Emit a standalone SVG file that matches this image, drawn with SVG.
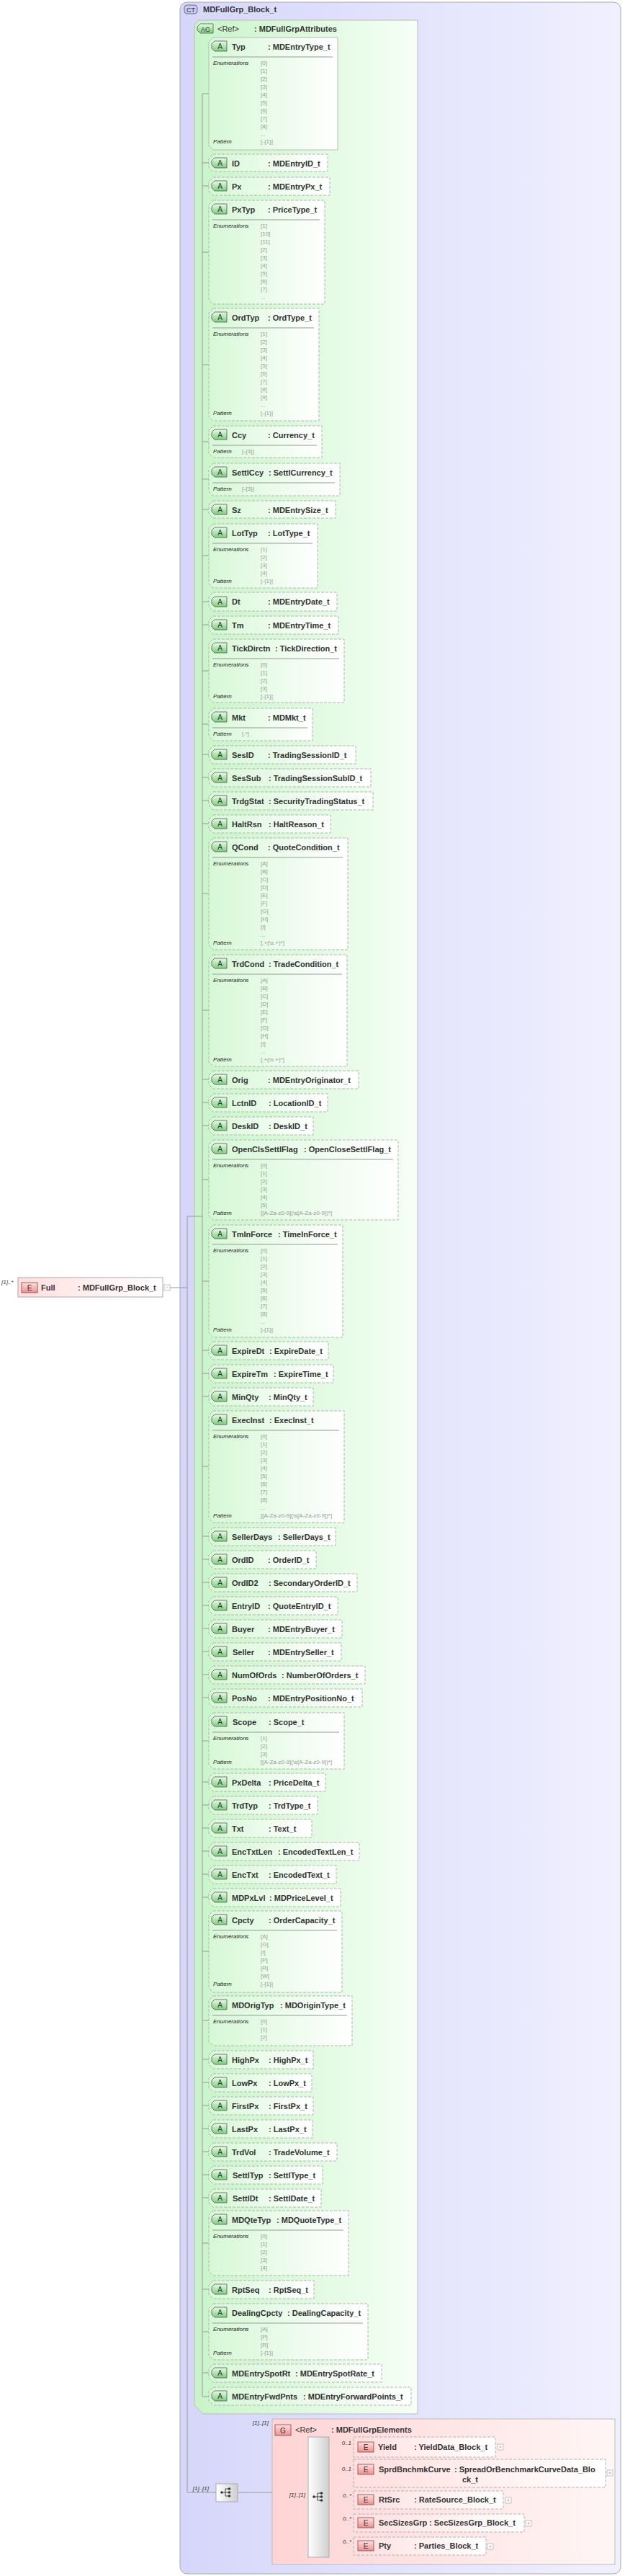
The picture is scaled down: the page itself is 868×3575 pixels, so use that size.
<svg xmlns="http://www.w3.org/2000/svg" xmlns:xlink="http://www.w3.org/1999/xlink" width="868" height="3575" viewBox="0 0 868 3575">
<defs>
<linearGradient id="gCT" x1="0" x2="1" y1="0" y2="0"><stop offset="0" stop-color="#d6d6fa"/><stop offset="1" stop-color="#f0f0ff"/></linearGradient>
<linearGradient id="gAG" x1="0" x2="1" y1="0" y2="0"><stop offset="0" stop-color="#c8f4c8"/><stop offset="1" stop-color="#f6fff6"/></linearGradient>
<linearGradient id="gAt" x1="0" x2="1" y1="0" y2="0"><stop offset="0" stop-color="#d6f8d6"/><stop offset="1" stop-color="#ffffff"/></linearGradient>
<linearGradient id="gG" x1="0" x2="1" y1="0" y2="0"><stop offset="0" stop-color="#ffd4d4"/><stop offset="1" stop-color="#fff6f6"/></linearGradient>
<linearGradient id="gEl" x1="0" x2="1" y1="0" y2="0"><stop offset="0" stop-color="#ffdede"/><stop offset="1" stop-color="#ffffff"/></linearGradient>
<linearGradient id="gAi" x1="0" x2="0" y1="0" y2="1"><stop offset="0" stop-color="#e8fbe8"/><stop offset="1" stop-color="#7ccf7c"/></linearGradient>
<linearGradient id="gEi" x1="0" x2="0" y1="0" y2="1"><stop offset="0" stop-color="#ffe0e0"/><stop offset="1" stop-color="#ec8f8f"/></linearGradient>
<linearGradient id="gSeq" x1="0" x2="1" y1="0" y2="0"><stop offset="0" stop-color="#ffffff"/><stop offset="1" stop-color="#cfcfcf"/></linearGradient>
<g id="ai"><path d="M4,0 H21 V14 H4 L0,10 V4 Z" fill="url(#gAi)" stroke="#555" stroke-width="0.8"/><text x="11.5" y="11" class="ic">A</text></g>
<g id="ei"><rect x="0" y="0" width="22" height="14" fill="url(#gEi)" stroke="#844" stroke-width="0.8"/><text x="11" y="11" class="ic">E</text></g>
<g id="plus"><rect x="0" y="0" width="8" height="8" fill="#fff" stroke="#aaa" stroke-width="0.7"/><path d="M2,4 H6 M4,2 V6" stroke="#aaa" stroke-width="0.7"/></g>
<g id="seqi"><path d="M-7,0 H-2 M-2,-5 V5 M-2,-5 H3 M-2,0 H3 M-2,5 H3" stroke="#333" stroke-width="0.9" fill="none"/><circle cx="-7" cy="0" r="1.8" fill="#333"/><circle cx="3.5" cy="-5" r="1.8" fill="#333"/><circle cx="3.5" cy="0" r="1.8" fill="#333"/><circle cx="3.5" cy="5" r="1.8" fill="#333"/></g>
</defs>
<style>
.n{font-family:"Liberation Sans",Arial,sans-serif;font-size:11px;font-weight:bold;fill:#333}
.l{font-family:"Liberation Sans",Arial,sans-serif;font-size:8px;font-style:italic;fill:#222}
.v{font-family:"Liberation Sans",Arial,sans-serif;font-size:8px;fill:#999}
.ic{font-family:"Liberation Sans",Arial,sans-serif;font-size:10px;fill:#333;text-anchor:middle}
.cd{font-family:"Liberation Sans",Arial,sans-serif;font-size:8px;font-style:italic;fill:#333;text-anchor:end}
.ab{fill:url(#gAt);stroke:#b4b4b4;stroke-width:1;stroke-dasharray:4 2}
.ab.s{stroke-dasharray:none;stroke:#bbb}
.sp{stroke:#999;stroke-width:1}
.c{stroke:#999;stroke-width:1;fill:none}
.eb{fill:url(#gEl);stroke:#b4b4b4;stroke-dasharray:4 2}
</style>

<g id="ct">
<rect x="250" y="3" width="612" height="3569" rx="10" fill="url(#gCT)" stroke="#aaa"/>
<rect x="256" y="7" width="18" height="12" rx="4" fill="#c8c8f4" stroke="#555" stroke-width="0.8"/>
<text x="265" y="16.5" class="ic" style="font-size:9px">CT</text>
<text x="282" y="17" class="n">MDFullGrp_Block_t</text>
</g>

<g id="ag">
<path d="M276,28 H580 V3350 H282 L270,3338 V34 Z" fill="url(#gAG)" stroke="#bbb"/>
<path d="M278,33 H296 V46 H278 L274,42 V37 Z" fill="url(#gAi)" stroke="#555" stroke-width="0.8"/>
<text x="285.5" y="43.5" class="ic" style="font-size:9px">AG</text>
<text x="302" y="44" class="n" style="font-weight:normal">&lt;Ref&gt;</text>
<text x="353" y="44" class="n">: MDFullGrpAttributes</text>
</g>

<g id="connectors">
<path class="c" d="M281,130 V3326"/>
<path class="c" d="M281,130 H290 M281,226 H290 M281,258 H290 M281,350 H290 M281,506 H290 M281,613 H290 M281,665 H290 M281,707 H290 M281,771 H290 M281,835 H290 M281,867 H290 M281,931 H290 M281,1005 H290 M281,1047 H290 M281,1079 H290 M281,1111 H290 M281,1143 H290 M281,1240 H290 M281,1402 H290 M281,1498 H290 M281,1530 H290 M281,1562 H290 M281,1637 H290 M281,1778 H290 M281,1874 H290 M281,1906 H290 M281,1938 H290 M281,2035 H290 M281,2132 H290 M281,2164 H290 M281,2196 H290 M281,2228 H290 M281,2260 H290 M281,2292 H290 M281,2324 H290 M281,2356 H290 M281,2416 H290 M281,2473 H290 M281,2505 H290 M281,2537 H290 M281,2569 H290 M281,2601 H290 M281,2633 H290 M281,2708 H290 M281,2804 H290 M281,2858 H290 M281,2890 H290 M281,2922 H290 M281,2954 H290 M281,2986 H290 M281,3018 H290 M281,3050 H290 M281,3113 H290 M281,3177 H290 M281,3236 H290 M281,3293 H290 M281,3326 H290"/>
<path class="c" d="M260,1688 V3459 M260,1688 H281 M236,1787 H260 M260,3459 H300 M330,3459 H378"/>
<path class="c" d="M457,3396 H491 M457,3432 H491 M457,3469 H491 M457,3501 H491 M457,3533 H491"/>
</g>

<g id="attr-Typ"><path class="ab s" d="M296,52 H469 V208 H296 L290,202 V58 Z"/><use xlink:href="#ai" x="294" y="57"/><text class="n" x="322" y="69">Typ</text><text class="n" x="372" y="69">: MDEntryType_t</text><path class="sp" d="M295,79 H462"/><text class="l" x="296" y="90">Enumerations</text><text class="v" x="362" y="90">[0]<tspan x="362" dy="11">[1]</tspan><tspan x="362" dy="11">[2]</tspan><tspan x="362" dy="11">[3]</tspan><tspan x="362" dy="11">[4]</tspan><tspan x="362" dy="11">[5]</tspan><tspan x="362" dy="11">[6]</tspan><tspan x="362" dy="11">[7]</tspan><tspan x="362" dy="11">[8]</tspan><tspan x="362" dy="11">...</tspan></text><text class="l" x="296" y="199">Pattern</text><text class="v" x="362" y="199">[-{1}]</text></g>
<g id="attr-ID"><path class="ab" d="M296,214 H455 V238 H296 L290,232 V220 Z"/><use xlink:href="#ai" x="294" y="219"/><text class="n" x="322" y="231">ID</text><text class="n" x="372" y="231">: MDEntryID_t</text></g>
<g id="attr-Px"><path class="ab" d="M296,246 H458 V271 H296 L290,265 V252 Z"/><use xlink:href="#ai" x="294" y="251"/><text class="n" x="322" y="263">Px</text><text class="n" x="372" y="263">: MDEntryPx_t</text></g>
<g id="attr-PxTyp"><path class="ab" d="M296,278 H451 V422 H296 L290,416 V284 Z"/><use xlink:href="#ai" x="294" y="283"/><text class="n" x="322" y="295">PxTyp</text><text class="n" x="372" y="295">: PriceType_t</text><path class="sp" d="M295,305 H444"/><text class="l" x="296" y="316">Enumerations</text><text class="v" x="362" y="316">[1]<tspan x="362" dy="11">[10]</tspan><tspan x="362" dy="11">[11]</tspan><tspan x="362" dy="11">[2]</tspan><tspan x="362" dy="11">[3]</tspan><tspan x="362" dy="11">[4]</tspan><tspan x="362" dy="11">[5]</tspan><tspan x="362" dy="11">[6]</tspan><tspan x="362" dy="11">[7]</tspan><tspan x="362" dy="11">...</tspan></text></g>
<g id="attr-OrdTyp"><path class="ab" d="M296,428 H443 V584 H296 L290,578 V434 Z"/><use xlink:href="#ai" x="294" y="433"/><text class="n" x="322" y="445">OrdTyp</text><text class="n" x="372" y="445">: OrdType_t</text><path class="sp" d="M295,455 H436"/><text class="l" x="296" y="466">Enumerations</text><text class="v" x="362" y="466">[1]<tspan x="362" dy="11">[2]</tspan><tspan x="362" dy="11">[3]</tspan><tspan x="362" dy="11">[4]</tspan><tspan x="362" dy="11">[5]</tspan><tspan x="362" dy="11">[6]</tspan><tspan x="362" dy="11">[7]</tspan><tspan x="362" dy="11">[8]</tspan><tspan x="362" dy="11">[9]</tspan><tspan x="362" dy="11">...</tspan></text><text class="l" x="296" y="576">Pattern</text><text class="v" x="362" y="576">[-{1}]</text></g>
<g id="attr-Ccy"><path class="ab" d="M296,591 H447 V635 H296 L290,629 V597 Z"/><use xlink:href="#ai" x="294" y="596"/><text class="n" x="322" y="608">Ccy</text><text class="n" x="372" y="608">: Currency_t</text><path class="sp" d="M295,618 H440"/><text class="l" x="296" y="629">Pattern</text><text class="v" x="336" y="629">[-{3}]</text></g>
<g id="attr-SettlCcy"><path class="ab" d="M296,643 H472 V688 H296 L290,682 V649 Z"/><use xlink:href="#ai" x="294" y="648"/><text class="n" x="322" y="660">SettlCcy</text><text class="n" x="373" y="660">: SettlCurrency_t</text><path class="sp" d="M295,670 H465"/><text class="l" x="296" y="681">Pattern</text><text class="v" x="336" y="681">[-{3}]</text></g>
<g id="attr-Sz"><path class="ab" d="M296,695 H466 V719 H296 L290,713 V701 Z"/><use xlink:href="#ai" x="294" y="700"/><text class="n" x="322" y="712">Sz</text><text class="n" x="372" y="712">: MDEntrySize_t</text></g>
<g id="attr-LotTyp"><path class="ab" d="M296,727 H441 V816 H296 L290,810 V733 Z"/><use xlink:href="#ai" x="294" y="732"/><text class="n" x="322" y="744">LotTyp</text><text class="n" x="372" y="744">: LotType_t</text><path class="sp" d="M295,754 H434"/><text class="l" x="296" y="765">Enumerations</text><text class="v" x="362" y="765">[1]<tspan x="362" dy="11">[2]</tspan><tspan x="362" dy="11">[3]</tspan><tspan x="362" dy="11">[4]</tspan></text><text class="l" x="296" y="809">Pattern</text><text class="v" x="362" y="809">[-{1}]</text></g>
<g id="attr-Dt"><path class="ab" d="M296,822 H468 V848 H296 L290,842 V828 Z"/><use xlink:href="#ai" x="294" y="828"/><text class="n" x="322" y="839">Dt</text><text class="n" x="372" y="839">: MDEntryDate_t</text></g>
<g id="attr-Tm"><path class="ab" d="M296,855 H470 V880 H296 L290,874 V861 Z"/><use xlink:href="#ai" x="294" y="860"/><text class="n" x="322" y="872">Tm</text><text class="n" x="372" y="872">: MDEntryTime_t</text></g>
<g id="attr-TickDirctn"><path class="ab" d="M296,887 H478 V975 H296 L290,969 V893 Z"/><use xlink:href="#ai" x="294" y="892"/><text class="n" x="322" y="904">TickDirctn</text><text class="n" x="382" y="904">: TickDirection_t</text><path class="sp" d="M295,914 H471"/><text class="l" x="296" y="925">Enumerations</text><text class="v" x="362" y="925">[0]<tspan x="362" dy="11">[1]</tspan><tspan x="362" dy="11">[2]</tspan><tspan x="362" dy="11">[3]</tspan></text><text class="l" x="296" y="969">Pattern</text><text class="v" x="362" y="969">[-{1}]</text></g>
<g id="attr-Mkt"><path class="ab" d="M296,983 H434 V1028 H296 L290,1022 V989 Z"/><use xlink:href="#ai" x="294" y="988"/><text class="n" x="322" y="1000">Mkt</text><text class="n" x="372" y="1000">: MDMkt_t</text><path class="sp" d="M295,1010 H427"/><text class="l" x="296" y="1021">Pattern</text><text class="v" x="336" y="1021">[.*]</text></g>
<g id="attr-SesID"><path class="ab" d="M296,1035 H494 V1060 H296 L290,1054 V1041 Z"/><use xlink:href="#ai" x="294" y="1040"/><text class="n" x="322" y="1052">SesID</text><text class="n" x="372" y="1052">: TradingSessionID_t</text></g>
<g id="attr-SesSub"><path class="ab" d="M296,1067 H515 V1092 H296 L290,1086 V1073 Z"/><use xlink:href="#ai" x="294" y="1072"/><text class="n" x="322" y="1084">SesSub</text><text class="n" x="373" y="1084">: TradingSessionSubID_t</text></g>
<g id="attr-TrdgStat"><path class="ab" d="M296,1099 H518 V1124 H296 L290,1118 V1105 Z"/><use xlink:href="#ai" x="294" y="1104"/><text class="n" x="322" y="1116">TrdgStat</text><text class="n" x="373" y="1116">: SecurityTradingStatus_t</text></g>
<g id="attr-HaltRsn"><path class="ab" d="M296,1131 H459 V1156 H296 L290,1150 V1137 Z"/><use xlink:href="#ai" x="294" y="1136"/><text class="n" x="322" y="1148">HaltRsn</text><text class="n" x="373" y="1148">: HaltReason_t</text></g>
<g id="attr-QCond"><path class="ab" d="M296,1163 H483 V1318 H296 L290,1312 V1169 Z"/><use xlink:href="#ai" x="294" y="1168"/><text class="n" x="322" y="1180">QCond</text><text class="n" x="372" y="1180">: QuoteCondition_t</text><path class="sp" d="M295,1190 H476"/><text class="l" x="296" y="1201">Enumerations</text><text class="v" x="362" y="1201">[A]<tspan x="362" dy="11">[B]</tspan><tspan x="362" dy="11">[C]</tspan><tspan x="362" dy="11">[D]</tspan><tspan x="362" dy="11">[E]</tspan><tspan x="362" dy="11">[F]</tspan><tspan x="362" dy="11">[G]</tspan><tspan x="362" dy="11">[H]</tspan><tspan x="362" dy="11">[I]</tspan><tspan x="362" dy="11">...</tspan></text><text class="l" x="296" y="1311">Pattern</text><text class="v" x="362" y="1311">[.+(\s.+)*]</text></g>
<g id="attr-TrdCond"><path class="ab" d="M296,1325 H482 V1480 H296 L290,1474 V1331 Z"/><use xlink:href="#ai" x="294" y="1330"/><text class="n" x="322" y="1342">TrdCond</text><text class="n" x="373" y="1342">: TradeCondition_t</text><path class="sp" d="M295,1352 H475"/><text class="l" x="296" y="1363">Enumerations</text><text class="v" x="362" y="1363">[A]<tspan x="362" dy="11">[B]</tspan><tspan x="362" dy="11">[C]</tspan><tspan x="362" dy="11">[D]</tspan><tspan x="362" dy="11">[E]</tspan><tspan x="362" dy="11">[F]</tspan><tspan x="362" dy="11">[G]</tspan><tspan x="362" dy="11">[H]</tspan><tspan x="362" dy="11">[I]</tspan><tspan x="362" dy="11">...</tspan></text><text class="l" x="296" y="1473">Pattern</text><text class="v" x="362" y="1473">[.+(\s.+)*]</text></g>
<g id="attr-Orig"><path class="ab" d="M296,1486 H498 V1511 H296 L290,1505 V1492 Z"/><use xlink:href="#ai" x="294" y="1491"/><text class="n" x="322" y="1503">Orig</text><text class="n" x="372" y="1503">: MDEntryOriginator_t</text></g>
<g id="attr-LctnID"><path class="ab" d="M296,1518 H455 V1543 H296 L290,1537 V1524 Z"/><use xlink:href="#ai" x="294" y="1523"/><text class="n" x="322" y="1535">LctnID</text><text class="n" x="373" y="1535">: LocationID_t</text></g>
<g id="attr-DeskID"><path class="ab" d="M296,1550 H435 V1575 H296 L290,1569 V1556 Z"/><use xlink:href="#ai" x="294" y="1555"/><text class="n" x="322" y="1567">DeskID</text><text class="n" x="373" y="1567">: DeskID_t</text></g>
<g id="attr-OpenClsSettlFlag"><path class="ab" d="M296,1582 H553 V1693 H296 L290,1687 V1588 Z"/><use xlink:href="#ai" x="294" y="1587"/><text class="n" x="322" y="1599">OpenClsSettlFlag</text><text class="n" x="422" y="1599">: OpenCloseSettlFlag_t</text><path class="sp" d="M295,1609 H546"/><text class="l" x="296" y="1620">Enumerations</text><text class="v" x="362" y="1620">[0]<tspan x="362" dy="11">[1]</tspan><tspan x="362" dy="11">[2]</tspan><tspan x="362" dy="11">[3]</tspan><tspan x="362" dy="11">[4]</tspan><tspan x="362" dy="11">[5]</tspan></text><text class="l" x="296" y="1686">Pattern</text><text class="v" x="362" y="1686">[[A-Za-z0-9](\s[A-Za-z0-9])*]</text></g>
<g id="attr-TmInForce"><path class="ab" d="M296,1700 H476 V1856 H296 L290,1850 V1706 Z"/><use xlink:href="#ai" x="294" y="1705"/><text class="n" x="322" y="1717">TmInForce</text><text class="n" x="386" y="1717">: TimeInForce_t</text><path class="sp" d="M295,1727 H469"/><text class="l" x="296" y="1738">Enumerations</text><text class="v" x="362" y="1738">[0]<tspan x="362" dy="11">[1]</tspan><tspan x="362" dy="11">[2]</tspan><tspan x="362" dy="11">[3]</tspan><tspan x="362" dy="11">[4]</tspan><tspan x="362" dy="11">[5]</tspan><tspan x="362" dy="11">[6]</tspan><tspan x="362" dy="11">[7]</tspan><tspan x="362" dy="11">[8]</tspan><tspan x="362" dy="11">...</tspan></text><text class="l" x="296" y="1848">Pattern</text><text class="v" x="362" y="1848">[-{1}]</text></g>
<g id="attr-ExpireDt"><path class="ab" d="M296,1862 H456 V1887 H296 L290,1881 V1868 Z"/><use xlink:href="#ai" x="294" y="1867"/><text class="n" x="322" y="1879">ExpireDt</text><text class="n" x="374" y="1879">: ExpireDate_t</text></g>
<g id="attr-ExpireTm"><path class="ab" d="M296,1894 H463 V1919 H296 L290,1913 V1900 Z"/><use xlink:href="#ai" x="294" y="1899"/><text class="n" x="322" y="1911">ExpireTm</text><text class="n" x="380" y="1911">: ExpireTime_t</text></g>
<g id="attr-MinQty"><path class="ab" d="M296,1926 H435 V1951 H296 L290,1945 V1932 Z"/><use xlink:href="#ai" x="294" y="1931"/><text class="n" x="322" y="1943">MinQty</text><text class="n" x="373" y="1943">: MinQty_t</text></g>
<g id="attr-ExecInst"><path class="ab" d="M296,1958 H478 V2113 H296 L290,2107 V1964 Z"/><use xlink:href="#ai" x="294" y="1963"/><text class="n" x="322" y="1975">ExecInst</text><text class="n" x="374" y="1975">: ExecInst_t</text><path class="sp" d="M295,1985 H471"/><text class="l" x="296" y="1996">Enumerations</text><text class="v" x="362" y="1996">[0]<tspan x="362" dy="11">[1]</tspan><tspan x="362" dy="11">[2]</tspan><tspan x="362" dy="11">[3]</tspan><tspan x="362" dy="11">[4]</tspan><tspan x="362" dy="11">[5]</tspan><tspan x="362" dy="11">[6]</tspan><tspan x="362" dy="11">[7]</tspan><tspan x="362" dy="11">[8]</tspan><tspan x="362" dy="11">...</tspan></text><text class="l" x="296" y="2106">Pattern</text><text class="v" x="362" y="2106">[[A-Za-z0-9](\s[A-Za-z0-9])*]</text></g>
<g id="attr-SellerDays"><path class="ab" d="M296,2120 H466 V2145 H296 L290,2139 V2126 Z"/><use xlink:href="#ai" x="294" y="2125"/><text class="n" x="322" y="2137">SellerDays</text><text class="n" x="386" y="2137">: SellerDays_t</text></g>
<g id="attr-OrdID"><path class="ab" d="M296,2152 H439 V2177 H296 L290,2171 V2158 Z"/><use xlink:href="#ai" x="294" y="2157"/><text class="n" x="322" y="2169">OrdID</text><text class="n" x="372" y="2169">: OrderID_t</text></g>
<g id="attr-OrdID2"><path class="ab" d="M296,2184 H496 V2209 H296 L290,2203 V2190 Z"/><use xlink:href="#ai" x="294" y="2189"/><text class="n" x="322" y="2201">OrdID2</text><text class="n" x="373" y="2201">: SecondaryOrderID_t</text></g>
<g id="attr-EntryID"><path class="ab" d="M296,2216 H469 V2241 H296 L290,2235 V2222 Z"/><use xlink:href="#ai" x="294" y="2221"/><text class="n" x="322" y="2233">EntryID</text><text class="n" x="372" y="2233">: QuoteEntryID_t</text></g>
<g id="attr-Buyer"><path class="ab" d="M296,2248 H475 V2273 H296 L290,2267 V2254 Z"/><use xlink:href="#ai" x="294" y="2253"/><text class="n" x="322" y="2265">Buyer</text><text class="n" x="372" y="2265">: MDEntryBuyer_t</text></g>
<g id="attr-Seller"><path class="ab" d="M296,2280 H474 V2305 H296 L290,2299 V2286 Z"/><use xlink:href="#ai" x="294" y="2285"/><text class="n" x="323" y="2297">Seller</text><text class="n" x="372" y="2297">: MDEntrySeller_t</text></g>
<g id="attr-NumOfOrds"><path class="ab" d="M296,2312 H507 V2337 H296 L290,2331 V2318 Z"/><use xlink:href="#ai" x="294" y="2317"/><text class="n" x="322" y="2329">NumOfOrds</text><text class="n" x="391" y="2329">: NumberOfOrders_t</text></g>
<g id="attr-PosNo"><path class="ab" d="M296,2344 H503 V2369 H296 L290,2363 V2350 Z"/><use xlink:href="#ai" x="294" y="2349"/><text class="n" x="322" y="2361">PosNo</text><text class="n" x="372" y="2361">: MDEntryPositionNo_t</text></g>
<g id="attr-Scope"><path class="ab" d="M296,2377 H478 V2455 H296 L290,2449 V2383 Z"/><use xlink:href="#ai" x="294" y="2382"/><text class="n" x="323" y="2394">Scope</text><text class="n" x="373" y="2394">: Scope_t</text><path class="sp" d="M295,2404 H471"/><text class="l" x="296" y="2415">Enumerations</text><text class="v" x="362" y="2415">[1]<tspan x="362" dy="11">[2]</tspan><tspan x="362" dy="11">[3]</tspan></text><text class="l" x="296" y="2448">Pattern</text><text class="v" x="362" y="2448">[[A-Za-z0-9](\s[A-Za-z0-9])*]</text></g>
<g id="attr-PxDelta"><path class="ab" d="M296,2461 H452 V2486 H296 L290,2480 V2467 Z"/><use xlink:href="#ai" x="294" y="2466"/><text class="n" x="322" y="2478">PxDelta</text><text class="n" x="373" y="2478">: PriceDelta_t</text></g>
<g id="attr-TrdTyp"><path class="ab" d="M296,2493 H441 V2518 H296 L290,2512 V2499 Z"/><use xlink:href="#ai" x="294" y="2498"/><text class="n" x="322" y="2510">TrdTyp</text><text class="n" x="373" y="2510">: TrdType_t</text></g>
<g id="attr-Txt"><path class="ab" d="M296,2525 H433 V2550 H296 L290,2544 V2531 Z"/><use xlink:href="#ai" x="294" y="2530"/><text class="n" x="322" y="2542">Txt</text><text class="n" x="373" y="2542">: Text_t</text></g>
<g id="attr-EncTxtLen"><path class="ab" d="M296,2557 H499 V2582 H296 L290,2576 V2563 Z"/><use xlink:href="#ai" x="294" y="2562"/><text class="n" x="322" y="2574">EncTxtLen</text><text class="n" x="386" y="2574">: EncodedTextLen_t</text></g>
<g id="attr-EncTxt"><path class="ab" d="M296,2589 H467 V2614 H296 L290,2608 V2595 Z"/><use xlink:href="#ai" x="294" y="2594"/><text class="n" x="322" y="2606">EncTxt</text><text class="n" x="373" y="2606">: EncodedText_t</text></g>
<g id="attr-MDPxLvl"><path class="ab" d="M296,2621 H473 V2646 H296 L290,2640 V2627 Z"/><use xlink:href="#ai" x="294" y="2626"/><text class="n" x="322" y="2638">MDPxLvl</text><text class="n" x="374" y="2638">: MDPriceLevel_t</text></g>
<g id="attr-Cpcty"><path class="ab" d="M296,2652 H475 V2765 H296 L290,2759 V2658 Z"/><use xlink:href="#ai" x="294" y="2657"/><text class="n" x="322" y="2669">Cpcty</text><text class="n" x="373" y="2669">: OrderCapacity_t</text><path class="sp" d="M295,2679 H468"/><text class="l" x="296" y="2690">Enumerations</text><text class="v" x="362" y="2690">[A]<tspan x="362" dy="11">[G]</tspan><tspan x="362" dy="11">[I]</tspan><tspan x="362" dy="11">[P]</tspan><tspan x="362" dy="11">[R]</tspan><tspan x="362" dy="11">[W]</tspan></text><text class="l" x="296" y="2756">Pattern</text><text class="v" x="362" y="2756">[-{1}]</text></g>
<g id="attr-MDOrigTyp"><path class="ab" d="M296,2770 H489 V2839 H296 L290,2833 V2776 Z"/><use xlink:href="#ai" x="294" y="2775"/><text class="n" x="322" y="2787">MDOrigTyp</text><text class="n" x="389" y="2787">: MDOriginType_t</text><path class="sp" d="M295,2797 H482"/><text class="l" x="296" y="2808">Enumerations</text><text class="v" x="362" y="2808">[0]<tspan x="362" dy="11">[1]</tspan><tspan x="362" dy="11">[2]</tspan></text></g>
<g id="attr-HighPx"><path class="ab" d="M296,2846 H435 V2871 H296 L290,2865 V2852 Z"/><use xlink:href="#ai" x="294" y="2851"/><text class="n" x="322" y="2863">HighPx</text><text class="n" x="373" y="2863">: HighPx_t</text></g>
<g id="attr-LowPx"><path class="ab" d="M296,2878 H433 V2903 H296 L290,2897 V2884 Z"/><use xlink:href="#ai" x="294" y="2883"/><text class="n" x="322" y="2895">LowPx</text><text class="n" x="373" y="2895">: LowPx_t</text></g>
<g id="attr-FirstPx"><path class="ab" d="M296,2910 H435 V2935 H296 L290,2929 V2916 Z"/><use xlink:href="#ai" x="294" y="2915"/><text class="n" x="322" y="2927">FirstPx</text><text class="n" x="373" y="2927">: FirstPx_t</text></g>
<g id="attr-LastPx"><path class="ab" d="M296,2942 H434 V2967 H296 L290,2961 V2948 Z"/><use xlink:href="#ai" x="294" y="2947"/><text class="n" x="322" y="2959">LastPx</text><text class="n" x="373" y="2959">: LastPx_t</text></g>
<g id="attr-TrdVol"><path class="ab" d="M296,2974 H468 V2999 H296 L290,2993 V2980 Z"/><use xlink:href="#ai" x="294" y="2979"/><text class="n" x="322" y="2991">TrdVol</text><text class="n" x="373" y="2991">: TradeVolume_t</text></g>
<g id="attr-SettlTyp"><path class="ab" d="M296,3006 H448 V3031 H296 L290,3025 V3012 Z"/><use xlink:href="#ai" x="294" y="3011"/><text class="n" x="323" y="3023">SettlTyp</text><text class="n" x="373" y="3023">: SettlType_t</text></g>
<g id="attr-SettlDt"><path class="ab" d="M296,3038 H446 V3063 H296 L290,3057 V3044 Z"/><use xlink:href="#ai" x="294" y="3043"/><text class="n" x="323" y="3055">SettlDt</text><text class="n" x="373" y="3055">: SettlDate_t</text></g>
<g id="attr-MDQteTyp"><path class="ab" d="M296,3068 H484 V3158 H296 L290,3152 V3074 Z"/><use xlink:href="#ai" x="294" y="3073"/><text class="n" x="322" y="3085">MDQteTyp</text><text class="n" x="384" y="3085">: MDQuoteType_t</text><path class="sp" d="M295,3095 H477"/><text class="l" x="296" y="3106">Enumerations</text><text class="v" x="362" y="3106">[0]<tspan x="362" dy="11">[1]</tspan><tspan x="362" dy="11">[2]</tspan><tspan x="362" dy="11">[3]</tspan><tspan x="362" dy="11">[4]</tspan></text></g>
<g id="attr-RptSeq"><path class="ab" d="M296,3165 H436 V3190 H296 L290,3184 V3171 Z"/><use xlink:href="#ai" x="294" y="3170"/><text class="n" x="322" y="3182">RptSeq</text><text class="n" x="373" y="3182">: RptSeq_t</text></g>
<g id="attr-DealingCpcty"><path class="ab" d="M296,3197 H511 V3275 H296 L290,3269 V3203 Z"/><use xlink:href="#ai" x="294" y="3202"/><text class="n" x="322" y="3214">DealingCpcty</text><text class="n" x="399" y="3214">: DealingCapacity_t</text><path class="sp" d="M295,3224 H504"/><text class="l" x="296" y="3235">Enumerations</text><text class="v" x="362" y="3235">[A]<tspan x="362" dy="11">[P]</tspan><tspan x="362" dy="11">[R]</tspan></text><text class="l" x="296" y="3268">Pattern</text><text class="v" x="362" y="3268">[-{1}]</text></g>
<g id="attr-MDEntrySpotRt"><path class="ab" d="M296,3281 H530 V3306 H296 L290,3300 V3287 Z"/><use xlink:href="#ai" x="294" y="3286"/><text class="n" x="322" y="3298">MDEntrySpotRt</text><text class="n" x="410" y="3298">: MDEntrySpotRate_t</text></g>
<g id="attr-MDEntryFwdPnts"><path class="ab" d="M296,3313 H571 V3338 H296 L290,3332 V3319 Z"/><use xlink:href="#ai" x="294" y="3318"/><text class="n" x="322" y="3330">MDEntryFwdPnts</text><text class="n" x="421" y="3330">: MDEntryForwardPoints_t</text></g>

<g id="full">
<text class="cd" x="22" y="1782" style="text-anchor:start" transform="translate(-20,0)">[1]..*</text>
<rect x="25" y="1773" width="201" height="27" fill="url(#gEl)" stroke="#aaa"/>
<use xlink:href="#ei" x="30" y="1780"/>
<text class="n" x="57" y="1791">Full</text>
<text class="n" x="108" y="1791">: MDFullGrp_Block_t</text>
<rect x="228" y="1783" width="8" height="8" fill="#fff" stroke="#aaa" stroke-width="0.7"/><path d="M230,1787 H234" stroke="#aaa" stroke-width="0.7"/>
</g>

<g id="seq-outer">
<text class="cd" x="290" y="3456">[1]..[1]</text>
<rect x="300" y="3447" width="30" height="25" fill="url(#gSeq)" stroke="#aaa"/>
<use xlink:href="#seqi" x="315" y="3459"/>
</g>

<g id="grp">
<rect x="378" y="3357" width="476" height="202" fill="url(#gG)" stroke="#bbb"/>
<text class="cd" x="373" y="3365">[1]..[1]</text>
<rect x="382" y="3365" width="22" height="15" fill="url(#gEi)" stroke="#844" stroke-width="0.8"/>
<text x="393" y="3376.5" class="ic">G</text>
<text x="410" y="3376" class="n" style="font-weight:normal">&lt;Ref&gt;</text>
<text x="460" y="3376" class="n">: MDFullGrpElements</text>
</g>

<g id="seq-inner">
<text class="cd" x="424" y="3465">[1]..[1]</text>
<rect x="428" y="3382" width="29" height="167" fill="url(#gSeq)" stroke="#aaa"/>
<use xlink:href="#seqi" x="443" y="3465"/>
</g>

<g id="el-Yield"><text class="cd" x="488" y="3393">0..1</text><rect class="eb" x="491" y="3382" width="197" height="28"/><use xlink:href="#ei" x="497" y="3389"/><text class="n" x="525" y="3400">Yield</text><text class="n" x="575" y="3400">: YieldData_Block_t</text><use xlink:href="#plus" x="691" y="3392"/></g>
<g id="el-SprdBnchmkCurve"><text class="cd" x="488" y="3429">0..1</text><rect class="eb" x="491" y="3413" width="350" height="39"/><use xlink:href="#ei" x="497" y="3420"/><text class="n" x="526" y="3431">SprdBnchmkCurve</text><text class="n" x="631" y="3431">: SpreadOrBenchmarkCurveData_Blo</text><text class="n" x="642" y="3445">ck_t</text><use xlink:href="#plus" x="843" y="3428"/></g>
<g id="el-RtSrc"><text class="cd" x="488" y="3466">0..*</text><rect class="eb" x="491" y="3457" width="208" height="25"/><use xlink:href="#ei" x="497" y="3462"/><text class="n" x="526" y="3473">RtSrc</text><text class="n" x="575" y="3473">: RateSource_Block_t</text><use xlink:href="#plus" x="702" y="3466"/></g>
<g id="el-SecSizesGrp"><text class="cd" x="488" y="3498">0..*</text><rect class="eb" x="491" y="3489" width="237" height="25"/><use xlink:href="#ei" x="497" y="3494"/><text class="n" x="526" y="3505">SecSizesGrp</text><text class="n" x="596" y="3505">: SecSizesGrp_Block_t</text><use xlink:href="#plus" x="730" y="3498"/></g>
<g id="el-Pty"><text class="cd" x="488" y="3530">0..*</text><rect class="eb" x="491" y="3521" width="184" height="25"/><use xlink:href="#ei" x="497" y="3526"/><text class="n" x="526" y="3537">Pty</text><text class="n" x="575" y="3537">: Parties_Block_t</text><use xlink:href="#plus" x="677" y="3530"/></g>
</svg>
